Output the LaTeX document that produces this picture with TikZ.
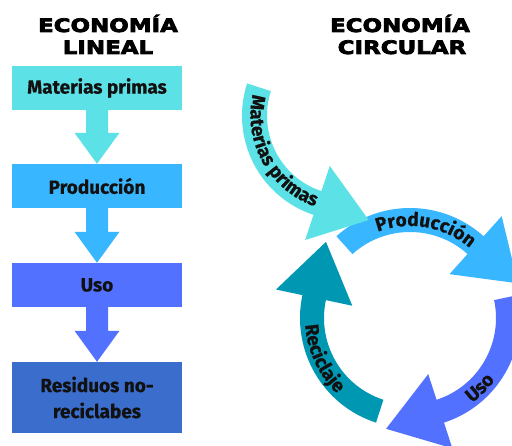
\documentclass[tikz,border=0pt]{standalone}
\usepackage{fontspec}
\setmainfont{Fira Sans}
\newfontfamily\labelfam[FakeBold=0.6]{Fira Sans}
\newfontfamily\titlefam[FakeStretch=1.24,FakeBold=4]{DejaVu Sans}
\usetikzlibrary{calc,decorations.text}
\definecolor{cA}{HTML}{5CE1E6}
\definecolor{cB}{HTML}{38B6FF}
\definecolor{cC}{HTML}{5271FF}
\definecolor{cD}{HTML}{3B6ECC}
\definecolor{cE}{HTML}{0097B2}
\definecolor{ink}{HTML}{111111}
\newcommand\lblfont{\labelfam\fontsize{19}{26}\selectfont\bfseries}
\newcommand\ttlfont{\titlefam\fontsize{18.5}{22}\selectfont\bfseries}
% block arrow between two stacked boxes
\newcommand\blockarr[3]{\fill[#3] ($(#1.south)+(-11,0.5)$) -- ($(#2.north)+(-11,31)$) -- ($(#2.north)+(-22.5,31)$) -- (#2.north) -- ($(#2.north)+(22.5,31)$) -- ($(#2.north)+(11,31)$) -- ($(#1.south)+(11,0.5)$) -- cycle;}
% curved arrow: color, center, inner r, outer r, tail angle, base angle, tangent offset, head length
\newcommand\ringarr[8]{\fill[#1] ($(#2)+(#5:#4)$) arc[start angle=#5, end angle=#6, radius=#4]
   -- ($(#2)+({#6}:{(#3+#4)/2+39})$)
   -- ($(#2)+({#6}:{(#3+#4)/2})+({#6+(#7)}:#8)$)
   -- ($(#2)+({#6}:{(#3+#4)/2-39})$)
   -- ($(#2)+(#6:#3)$) arc[start angle=#6, end angle=#5, radius=#3] -- cycle;}
\begin{document}
\begin{tikzpicture}[x=1pt,y=1pt,
  stage/.style={minimum width=170pt, minimum height=44pt, inner sep=0pt, text=ink, font=\lblfont, align=center},
  ttl/.style={font=\ttlfont, text=black, anchor=base, inner sep=0pt}]
\useasboundingbox (0,0) rectangle (512,446);
\fill[white] (0,0) rectangle (512,446);

% titles
\node[ttl] (tl1) at (108,414) {ECONOMÍA};
\node[ttl] (tl2) at (108,392) {LINEAL};
\node[ttl] (tc1) at (400,414) {ECONOMÍA};
\node[ttl] (tc2) at (402,392) {CIRCULAR};

% linear economy
\node[stage, fill=cA] (mp) at (97,358) {Materias primas};
\node[stage, fill=cB] (pr) at (97,260) {Producción};
\node[stage, fill=cC] (us) at (97,161) {Uso};
\node[stage, fill=cD, minimum height=71pt] (rs) at (97,48.5) {Residuos no-\\reciclabes};
\blockarr{mp}{pr}{cA}
\blockarr{pr}{us}{cB}
\blockarr{us}{rs}{cC}

% circular economy
\coordinate (C) at (410,128);
\coordinate (M) at (346.5,330.3);
\ringarr{cE}{C}{86}{110}{-108}{-192}{-90}{57}
\ringarr{cC}{C}{86}{110}{12}{-72}{-90}{57}
\ringarr{cB}{C}{86}{110}{132}{48}{-90}{57}
\ringarr{cA}{M}{79.5}{104.5}{162}{251.6}{90}{54}

\path[decorate, decoration={text along path, text align=center, text={|\lblfont\color{ink}|Materias primas}}]
  ($(M)+(149:96)$) arc[start angle=149, end angle=269, radius=96];
\path[decorate, decoration={text along path, text align=center, text={|\lblfont\color{ink}|Producción}}]
  ($(C)+(140:92)$) arc[start angle=140, end angle=20, radius=92];
\path[decorate, decoration={text along path, text align=center, text={|\lblfont\color{ink}|Uso}}]
  ($(C)+(-80:105)$) arc[start angle=-80, end angle=-10, radius=105];
\path[decorate, decoration={text along path, text align=center, text={|\lblfont\color{ink}|Reciclaje}}]
  ($(C)+(150:105)$) arc[start angle=150, end angle=260, radius=105];
\end{tikzpicture}
\end{document}
